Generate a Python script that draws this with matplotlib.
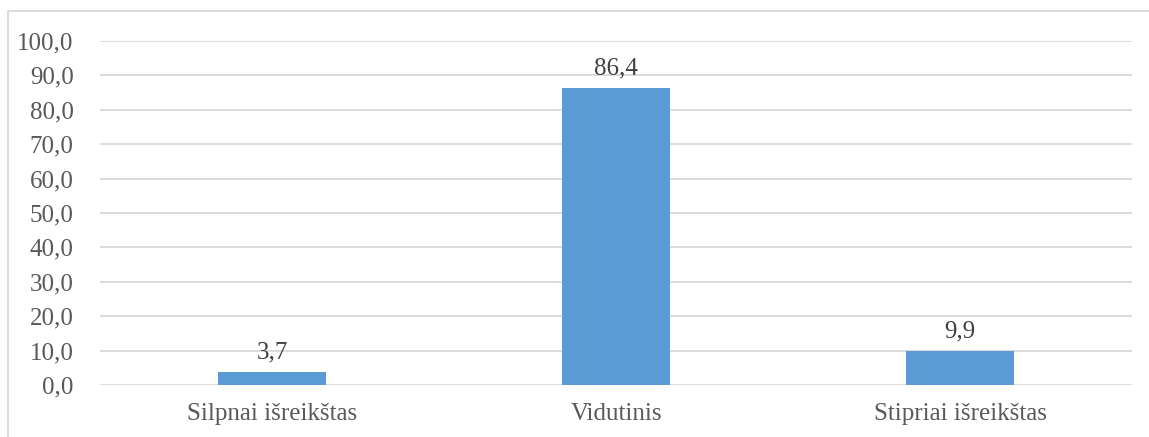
import matplotlib.pyplot as plt
from matplotlib.patches import Rectangle

# data
categories = ["Silpnai išreikštas", "Vidutinis", "Stipriai išreikštas"]
values = [3.7, 86.4, 9.9]
yticks = [0, 10, 20, 30, 40, 50, 60, 70, 80, 90, 100]

plt.rcParams['font.family'] = ['Liberation Serif', 'DejaVu Serif']

fig = plt.figure(figsize=(11.49, 4.37), dpi=100)
ax = fig.add_axes([100/1149, 1 - 385/437, 1032/1149, 344/437])

x = list(range(len(categories)))
ax.bar(x, values, width=0.314, color="#5B9BD5", zorder=3)
for xi, v in zip(x, values):
    ax.text(xi, v + 2.5, f"{v:.1f}".replace(".", ","), ha="center", va="bottom",
            fontsize=18, color="#404040", zorder=4)

ax.set_xlim(-0.5, 2.5)
ax.set_ylim(0, 100)
ax.set_yticks(yticks)
ax.set_yticklabels([f"{t:.1f}".replace(".", ",") for t in yticks])
ax.set_xticks(x)
ax.set_xticklabels(categories)
ax.tick_params(axis="both", length=0, labelsize=18, labelcolor="#595959")
ax.tick_params(axis="y", pad=19)
ax.tick_params(axis="x", pad=13)
ax.grid(axis="y", color="#D9D9D9", linewidth=1.3, zorder=0)
for s in ax.spines.values():
    s.set_visible(False)

# outer chart border
fig.patches.append(Rectangle((8/1149, -0.1), 1.2, 1.1 - 11/437,
                             transform=fig.transFigure, fill=False,
                             edgecolor="#D9D9D9", linewidth=1.3))

fig.savefig("out.png", dpi=100)
